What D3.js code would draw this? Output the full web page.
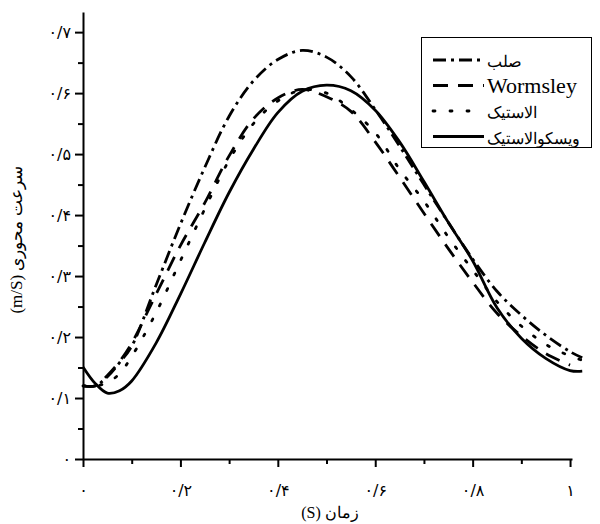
<!DOCTYPE html>
<html>
<head>
<meta charset="utf-8">
<title>سرعت محوری</title>
<script src="https://d3js.org/d3.v7.min.js"></script>
<style>
  body { margin: 0; background: #fff; }
  text { font-family: "Liberation Serif", "DejaVu Serif", serif; fill: #000; }
</style>
</head>
<body>
<div id="chart"></div>
<script>

// time (s)
var time = [0, 0.025, 0.05, 0.075, 0.1, 0.15, 0.2, 0.25, 0.3, 0.35, 0.4, 0.45, 0.5,
            0.55, 0.6, 0.65, 0.7, 0.75, 0.8, 0.85, 0.9, 0.95, 1.0, 1.025];

// axial velocity (m/s)
var rigid        = [0.12, 0.12, 0.135, 0.158, 0.185, 0.285, 0.385, 0.478, 0.562, 0.62, 0.655, 0.67, 0.659,
                    0.627, 0.573, 0.513, 0.45, 0.388, 0.328, 0.275, 0.236, 0.203, 0.176, 0.166];
var wormsley     = [0.12, 0.12, 0.137, 0.16, 0.19, 0.27, 0.35, 0.42, 0.497, 0.558, 0.592, 0.606, 0.594,
                    0.57, 0.52, 0.462, 0.403, 0.345, 0.29, 0.239, 0.202, 0.173, 0.154, null];
var elastic      = [0.12, 0.12, 0.125, 0.14, 0.168, 0.24, 0.325, 0.41, 0.49, 0.55, 0.587, 0.605, 0.6,
                    0.573, 0.535, 0.475, 0.423, 0.364, 0.31, 0.258, 0.218, 0.188, 0.169, 0.162];
var viscoelastic = [0.151, 0.124, 0.108, 0.112, 0.128, 0.19, 0.27, 0.355, 0.437, 0.508, 0.568, 0.603, 0.613,
                    0.604, 0.572, 0.52, 0.455, 0.388, 0.325, 0.248, 0.198, 0.165, 0.145, 0.144];

var seriesNames = ["صلب", "Wormsley", "الاستیک", "ویسکوالاستیک"];
var seriesValues = [rigid, wormsley, elastic, viscoelastic];
var dashes = ["13,5,3,5", "15,10", "2,15", null];

var xTicks = [0, 0.2, 0.4, 0.6, 0.8, 1];
var xTickLabels = ["۰", "۰/۲", "۰/۴", "۰/۶", "۰/۸", "۱"];
var yTicks = [0, 0.1, 0.2, 0.3, 0.4, 0.5, 0.6, 0.7];
var yTickLabels = ["۰", "۰/۱", "۰/۲", "۰/۳", "۰/۴", "۰/۵", "۰/۶", "۰/۷"];

var width = 600;
var height = 524;

var svg = d3.select("#chart")
	.append("svg")
		.attr("width", width)
		.attr("height", height);

var x = d3.scaleLinear().domain([0, 1.004]).range([83, 572]);
var y = d3.scaleLinear().domain([0, 0.733]).range([459, 12]);

// minor ticks first, then major ticks with labels
svg.append("g")
	.attr("transform", "translate(0," + y(0) + ")")
	.call(d3.axisBottom(x).tickValues([0.1, 0.3, 0.5, 0.7, 0.9]).tickSize(5).tickFormat(""))
	.call(function(g) { g.select(".domain").remove(); });

svg.append("g")
	.attr("transform", "translate(" + x(0) + ",0)")
	.call(d3.axisLeft(y).tickValues([0.05, 0.15, 0.25, 0.35, 0.45, 0.55, 0.65]).tickSize(5).tickFormat(""))
	.call(function(g) { g.select(".domain").remove(); });

var xAxis = svg.append("g")
	.attr("transform", "translate(0," + y(0) + ")")
	.call(d3.axisBottom(x).tickValues(xTicks).tickSize(8).tickSizeOuter(0).tickPadding(18)
		.tickFormat(function(d, i) { return xTickLabels[i]; }));

var yAxis = svg.append("g")
	.attr("transform", "translate(" + x(0) + ",0)")
	.call(d3.axisLeft(y).tickValues(yTicks).tickSize(8).tickSizeOuter(0).tickPadding(4)
		.tickFormat(function(d, i) { return yTickLabels[i]; }));

svg.selectAll(".tick line").attr("stroke", "#000").attr("stroke-width", 2);
svg.selectAll(".domain").attr("stroke", "#000").attr("stroke-width", 2);
svg.selectAll(".tick text")
	.style("font-size", "16px")
	.style("font-family", "'DejaVu Sans', sans-serif");

// axis titles
svg.append("text")
	.attr("x", 330)
	.attr("y", 518)
	.attr("text-anchor", "middle")
	.style("font-size", "16px")
	.text("(S) زمان");

svg.append("text")
	.attr("transform", "translate(22,240) rotate(-90)")
	.attr("text-anchor", "middle")
	.style("font-size", "17px")
	.text("(m/S) سرعت محوری");

// curves
var line = d3.line()
	.defined(function(d) { return d[1] != null; })
	.x(function(d) { return x(d[0]); })
	.y(function(d) { return y(d[1]); })
	.curve(d3.curveCatmullRom.alpha(0.5));

seriesValues.forEach(function(vals, i) {
	var pts = time.map(function(t, j) { return [t, vals[j]]; });
	svg.append("path")
		.attr("d", line(pts))
		.attr("fill", "none")
		.attr("stroke", "#000")
		.attr("stroke-width", 2.8)
		.attr("stroke-dasharray", dashes[i])
		.attr("stroke-linecap", i == 2 ? "round" : "butt");
});

// legend
var legend = svg.append("g");

legend.append("rect")
	.attr("x", 421.5)
	.attr("y", 37.5)
	.attr("width", 170)
	.attr("height", 110)
	.attr("fill", "#fff")
	.attr("stroke", "#000")
	.attr("stroke-width", 1);

seriesNames.forEach(function(name, i) {
	var cy = 60 + i * 25.5;
	legend.append("line")
		.attr("x1", 433)
		.attr("x2", 484)
		.attr("y1", cy)
		.attr("y2", cy)
		.attr("stroke", "#000")
		.attr("stroke-width", 2.8)
		.attr("stroke-dasharray", dashes[i])
		.attr("stroke-linecap", i == 2 ? "round" : "butt");
	legend.append("text")
		.attr("x", 487)
		.attr("y", cy + 7)
		.style("font-size", i == 1 ? "22px" : "16px")
		.text(name);
});

</script>
</body>
</html>
